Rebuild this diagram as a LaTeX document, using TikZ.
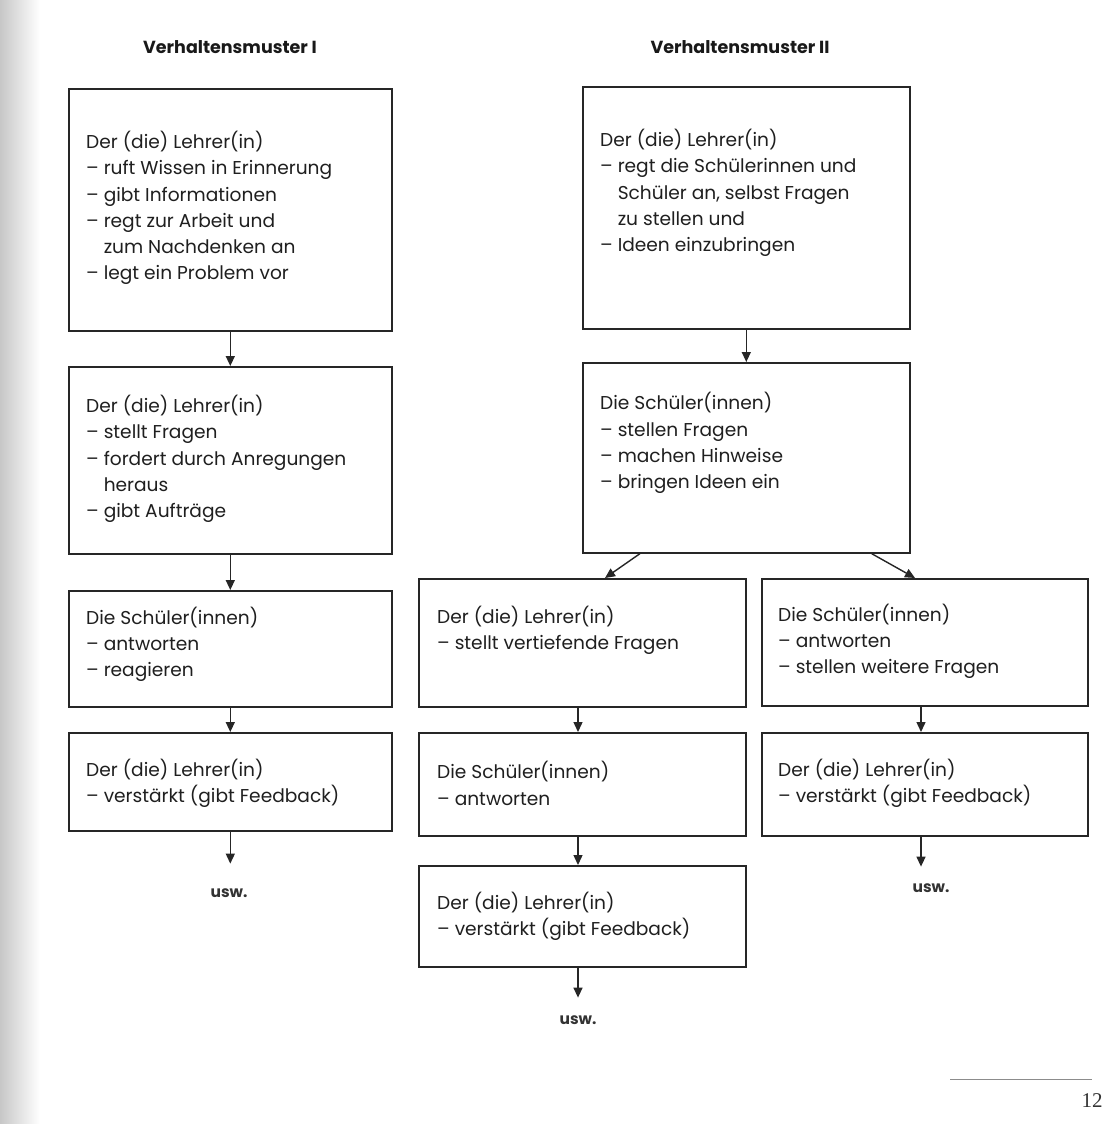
\documentclass[tikz,border=0pt]{standalone}
\usepackage{fontspec}
\setmainfont{Poppins}
\newfontfamily\pagefont{Liberation Serif}
\usetikzlibrary{arrows.meta,calc}
\newlength{\dashind}
\newcommand{\ind}{\settowidth{\dashind}{– }\hspace*{\dashind}}
\begin{document}
\begin{tikzpicture}[x=1pt,y=-1pt,
  box/.style={draw=black!85, line width=1.6pt, anchor=north west, inner sep=0pt},
  txt/.style={anchor=west, align=left, inner sep=0pt, font=\fontsize{18.6}{26.3}\selectfont, text=black!88},
  head/.style={font=\fontsize{17.5}{20}\selectfont\bfseries, text=black!90},
  usw/.style={font=\fontsize{15.5}{18}\selectfont\bfseries, text=black!80},
  arr/.style={draw=black!85, line width=1.4pt, -{Triangle[length=10pt,width=9pt]}}]
\useasboundingbox (0,0) rectangle (1110,1124);
\fill[white] (0,0) rectangle (1110,1124);
\shade[left color=black!22, right color=white] (0,0) rectangle (40,1124);
% headers
\node[head] (h1) at (230,47) {Verhaltensmuster I};
\node[head] (h2) at (740,47) {Verhaltensmuster II};
% left column
\node[box, minimum width=323pt, minimum height=242pt] (b1) at (68,88) {};
\node[box, minimum width=323pt, minimum height=187pt] (b2) at (68,366) {};
\node[box, minimum width=323pt, minimum height=116pt] (b3) at (68,590) {};
\node[box, minimum width=323pt, minimum height=98pt] (b4) at (68,732) {};
\node[txt] (t1) at (86,208) {Der (die) Lehrer(in)\\– ruft Wissen in Erinnerung\\– gibt Informationen\\– regt zur Arbeit und\\\ind zum Nachdenken an\\– legt ein Problem vor};
\node[txt] (t2) at (86,459) {Der (die) Lehrer(in)\\– stellt Fragen\\– fordert durch Anregungen\\\ind heraus\\– gibt Aufträge};
\node[txt] (t3) at (86,644.5) {Die Schüler(innen)\\– antworten\\– reagieren};
\node[txt] (t4) at (86,783.5) {Der (die) Lehrer(in)\\– verstärkt (gibt Feedback)};
\node[usw] (u1) at (229,893) {usw.};
% right column
\node[box, minimum width=327pt, minimum height=242pt] (ba) at (582,86) {};
\node[box, minimum width=327pt, minimum height=190pt] (bb) at (582,362) {};
\node[box, minimum width=327pt, minimum height=128pt] (bc) at (418,578) {};
\node[box, minimum width=326pt, minimum height=127pt] (bd) at (761,578) {};
\node[box, minimum width=327pt, minimum height=103pt] (be) at (418,732) {};
\node[box, minimum width=326pt, minimum height=103pt] (bf) at (761,732) {};
\node[box, minimum width=327pt, minimum height=101pt] (bg) at (418,865) {};
\node[txt] (ta) at (600,193) {Der (die) Lehrer(in)\\– regt die Schülerinnen und\\\ind Schüler an, selbst Fragen\\\ind zu stellen und\\– Ideen einzubringen};
\node[txt] (tb) at (600,443) {Die Schüler(innen)\\– stellen Fragen\\– machen Hinweise\\– bringen Ideen ein};
\node[txt] (tc) at (437,630.5) {Der (die) Lehrer(in)\\– stellt vertiefende Fragen};
\node[txt] (td) at (778,641.5) {Die Schüler(innen)\\– antworten\\– stellen weitere Fragen};
\node[txt] (te) at (437,783.5) {Die Schüler(innen)\\– antworten};
\node[txt] (tf) at (778,783.5) {Der (die) Lehrer(in)\\– verstärkt (gibt Feedback)};
\node[txt] (tg) at (437,916) {Der (die) Lehrer(in)\\– verstärkt (gibt Feedback)};
\node[usw] (u2) at (931,888) {usw.};
\node[usw] (u3) at (578,1020) {usw.};
% arrows
\draw[arr] (b1.south) -- (b2.north);
\draw[arr] (b2.south) -- (b3.north);
\draw[arr] (b3.south) -- (b4.north);
\draw[arr] (b4.south) -- ($(b4.south)+(0,32)$) coordinate (e1);
\draw[arr] (ba.south) -- (bb.north);
\draw[arr] ($(bb.south west)+(58,0)$) -- ($(bc.north west)+(187,0)$);
\draw[arr] ($(bb.south east)+(-39,0)$) -- ($(bd.north west)+(154,0)$);
\draw[arr] ($(bc.south west)+(160,0)$) -- ($(be.north west)+(160,0)$);
\draw[arr] ($(bd.south west)+(160,0)$) -- ($(bf.north west)+(160,0)$);
\draw[arr] ($(be.south west)+(160,0)$) -- ($(bg.north west)+(160,0)$);
\draw[arr] ($(bf.south west)+(160,0)$) -- ($(bf.south west)+(160,30)$) coordinate (e2);
\draw[arr] ($(bg.south west)+(160,0)$) -- ($(bg.south west)+(160,30)$) coordinate (e3);
% page footer
\draw[black!45, line width=0.8pt] (950,1079) coordinate (r1) -- (1092,1079) coordinate (r2);
\node[font=\pagefont\fontsize{21}{24}\selectfont, text=black!80] (pn) at (1092,1101) {12};
\end{tikzpicture}
\end{document}
